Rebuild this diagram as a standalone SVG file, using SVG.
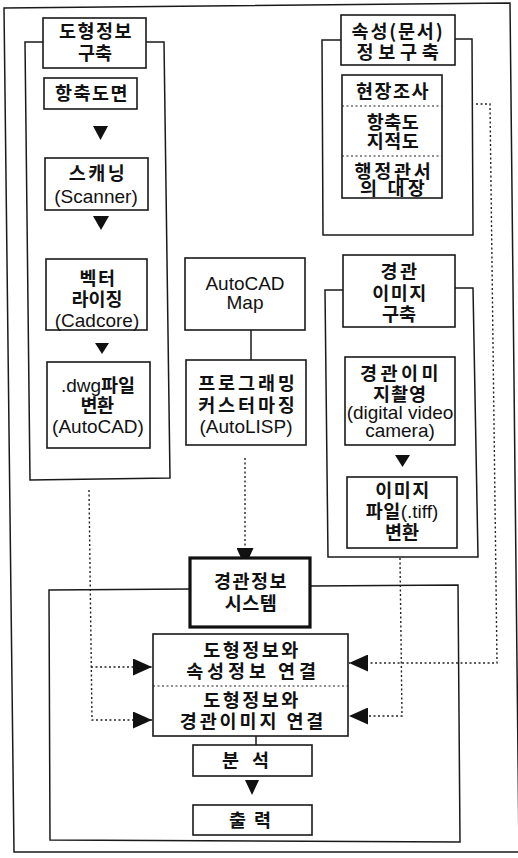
<svg xmlns="http://www.w3.org/2000/svg" width="518" height="858" viewBox="0 0 518 858">
<defs>
<style>
.bg{fill:#ffffff}
.frame{fill:none;stroke:#1a1a1a;stroke-width:1.5}
.box{fill:#ffffff;stroke:#1a1a1a;stroke-width:1.6}
.bold{fill:#ffffff;stroke:#111;stroke-width:3.2}
.dot{fill:none;stroke:#222;stroke-width:1.4;stroke-dasharray:2 2.5}
.div{fill:none;stroke:#222;stroke-width:1.2;stroke-dasharray:2 2.5}
.line{fill:none;stroke:#1a1a1a;stroke-width:1.5}
.tri{fill:#111}
.k{font-family:"Noto Sans CJK KR","Noto Sans",sans-serif;font-size:18.5px;font-weight:bold;fill:#111;text-anchor:middle;letter-spacing:1.5px}
.e{font-family:"Liberation Sans",Arial,sans-serif;font-size:19px;fill:#111;text-anchor:middle}
.en{font-family:"Liberation Sans",Arial,sans-serif;font-weight:normal;font-size:19px;letter-spacing:0px}
</style>
<marker id="ah" viewBox="0 0 10 10" refX="10" refY="5" markerWidth="19" markerHeight="17" markerUnits="userSpaceOnUse" orient="auto" preserveAspectRatio="none">
<path d="M0,0 L10,5 L0,10 z" fill="#111"/>
</marker>
</defs>
<rect class="bg" x="0" y="0" width="518" height="858"/>
<polygon class="frame" points="4,8 510,3 519,852 14,852"/>

<g id="connectors">
<polyline class="frame" points="43,42 25,42 30,480 170,478 164,42 146,42"/>
<polyline class="frame" points="341,40 322,40 323,235 473,235 472,39 455,39"/>
<polyline class="frame" points="343,290 325,290 328,557 478,557 473,288 455,288"/>
<polyline class="frame" points="190,589 49,590 50,840 460,842 458,585 310,586"/>
<line class="line" x1="251" y1="330" x2="251" y2="360"/>
<line class="line" x1="256" y1="736" x2="256" y2="745"/>
<polygon class="tri" points="93,126 108,126 100.5,140"/>
<polygon class="tri" points="93,216 109,216 101,230"/>
<polygon class="tri" points="95,343 109,343 102,354"/>
<polygon class="tri" points="395,455 410,455 402.5,467"/>
<polygon class="tri" points="245,780 259,780 252,795"/>
<polyline class="dot" points="89,490 92,720 152,720" marker-end="url(#ah)"/>
<polyline class="dot" points="91,667 152,667" marker-end="url(#ah)"/>
<polyline class="dot" points="245,458 245,567" marker-end="url(#ah)"/>
<polyline class="dot" points="476,104 490,104 497,663 349,663" marker-end="url(#ah)"/>
<polyline class="dot" points="400,558 402,716 349,716" marker-end="url(#ah)"/>
</g>

<g id="n-shape-title">
<rect class="box" x="43" y="18" width="103" height="50"/>
<text class="k" x="96" y="38">도형정보</text>
<text class="k" x="95" y="60" style="letter-spacing:0px">구축</text>
</g>
<g id="n-hangchuk">
<rect class="box" x="44" y="78" width="93" height="31"/>
<text class="k" x="92" y="100">항축도면</text>
</g>
<g id="n-scan">
<rect class="box" x="45" y="158" width="103" height="52"/>
<text class="k" x="98" y="180" style="letter-spacing:2.5px">스캐닝</text>
<text class="e" x="96" y="203">(Scanner)</text>
</g>
<g id="n-vector">
<rect class="box" x="46" y="259" width="101" height="71"/>
<text class="k" x="98" y="285">벡터</text>
<text class="k" x="97" y="306" style="letter-spacing:0px">라이징</text>
<text class="e" x="97" y="327">(Cadcore)</text>
</g>
<g id="n-dwg">
<rect class="box" x="47" y="362" width="103" height="86"/>
<text class="k" x="98" y="392" style="letter-spacing:0px"><tspan class="en">.dwg</tspan>파일</text>
<text class="k" x="97" y="412" style="letter-spacing:-0.5px">변환</text>
<text class="e" x="98" y="433">(AutoCAD)</text>
</g>

<g id="n-acadmap">
<rect class="box" x="185" y="258" width="120" height="72"/>
<text class="e" x="245" y="290">AutoCAD</text>
<text class="e" x="245" y="309">Map</text>
</g>
<g id="n-program">
<rect class="box" x="186" y="360" width="120" height="85"/>
<text class="k" x="248" y="390" style="letter-spacing:2.9px">프로그래밍</text>
<text class="k" x="248" y="412" style="letter-spacing:2.9px">커스터마징</text>
<text class="e" x="246" y="433">(AutoLISP)</text>
</g>

<g id="n-attr-title">
<rect class="box" x="341" y="15" width="114" height="50"/>
<text class="k" x="398" y="38" style="letter-spacing:1.8px">속성(문서)</text>
<text class="k" x="400" y="59" style="letter-spacing:4.7px">정보구축</text>
</g>
<g id="n-attr-items">
<rect class="box" x="342" y="75" width="100" height="123"/>
<line class="div" x1="342" y1="106" x2="442" y2="106"/>
<line class="div" x1="342" y1="156" x2="442" y2="156"/>
<text class="k" x="393" y="98">현장조사</text>
<text class="k" x="393" y="129" style="letter-spacing:0.5px">항축도</text>
<text class="k" x="393" y="148" style="letter-spacing:0.5px">지적도</text>
<text class="k" x="394" y="178" style="letter-spacing:2.7px">행정관서</text>
<text class="k" x="394" y="195" style="letter-spacing:3.2px">의 대장</text>
</g>

<g id="n-scene-title">
<rect class="box" x="343" y="255" width="112" height="72"/>
<text class="k" x="400" y="278" style="letter-spacing:2.5px">경관</text>
<text class="k" x="400" y="300">이미지</text>
<text class="k" x="399" y="321" style="letter-spacing:0px">구축</text>
</g>
<g id="n-photo">
<rect class="box" x="345" y="357" width="110" height="88"/>
<text class="k" x="401" y="380" style="letter-spacing:3.5px">경관이미</text>
<text class="k" x="400" y="401" style="letter-spacing:1px">지촬영</text>
<text class="e" x="400" y="419">(digital video</text>
<text class="e" x="400" y="437">camera)</text>
</g>
<g id="n-tiff">
<rect class="box" x="347" y="477" width="110" height="71"/>
<text class="k" x="403" y="497">이미지</text>
<text class="k" x="402" y="518" style="letter-spacing:0.5px">파일<tspan class="en">(.tiff)</tspan></text>
<text class="k" x="402" y="539" style="letter-spacing:0px">변환</text>
</g>

<g id="n-system">
<rect class="bold" x="190" y="558" width="120" height="69"/>
<text class="k" x="251" y="588">경관정보</text>
<text class="k" x="251" y="610" style="letter-spacing:0.5px">시스템</text>
</g>
<g id="n-link">
<rect class="box" x="153" y="634" width="195" height="102"/>
<line class="div" x1="153" y1="686" x2="348" y2="686"/>
<text class="k" x="252" y="657" style="letter-spacing:2.5px">도형정보와</text>
<text class="k" x="253" y="678" style="letter-spacing:3.9px">속성정보 연결</text>
<text class="k" x="252" y="707" style="letter-spacing:2.5px">도형정보와</text>
<text class="k" x="253" y="728" style="letter-spacing:2.9px">경관이미지 연결</text>
</g>
<g id="n-analysis">
<rect class="box" x="193" y="745" width="119" height="31"/>
<text class="k" x="252" y="767" style="letter-spacing:13px">분석</text>
</g>
<g id="n-output">
<rect class="box" x="193" y="805" width="119" height="30"/>
<text class="k" x="254" y="827" style="letter-spacing:8px">출력</text>
</g>
</svg>
